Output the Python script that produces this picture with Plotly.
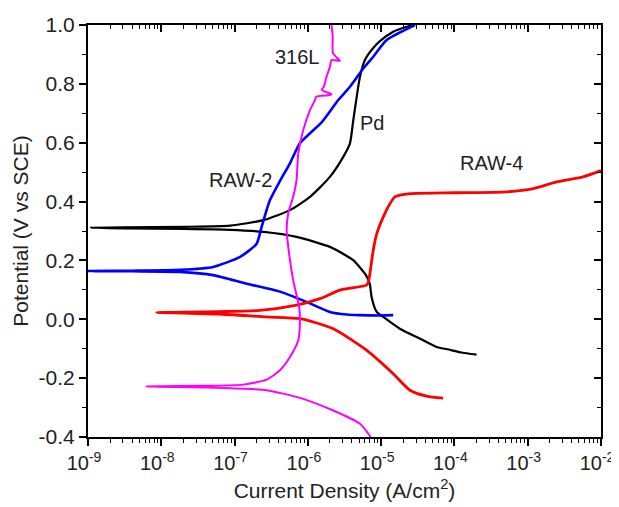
import math
import plotly.graph_objects as go

# ---- data (current density A/cm^2, potential V vs SCE) ----
pd_i = [2.0e-4, 1.6e-4, 1.25e-4, 8.0e-5, 5.7e-5, 3.4e-5, 1.8e-5, 1.07e-5, 8.7e-6, 7.4e-6,
        7.0e-6, 6.2e-6, 4.2e-6, 3.4e-6, 2.0e-6, 7.0e-7, 2.5e-7, 8.7e-8, 2.0e-8, 3.0e-9,
        1.1e-9, 3.0e-9, 2.0e-8, 8.7e-8, 2.47e-7, 5.7e-7, 1.07e-6, 2.0e-6, 3.04e-6, 3.75e-6,
        4.17e-6, 4.64e-6, 5.14e-6, 6.0e-6, 7.4e-6, 9.6e-6, 1.46e-5, 2.23e-5, 2.8e-5]
pd_e = [-0.120, -0.117, -0.113, -0.102, -0.094, -0.066, -0.032, 0.008, 0.025, 0.076,
        0.121, 0.150, 0.200, 0.215, 0.246, 0.280, 0.297, 0.304, 0.307, 0.309,
        0.311, 0.312, 0.314, 0.318, 0.337, 0.371, 0.416, 0.484, 0.552, 0.598,
        0.677, 0.756, 0.824, 0.881, 0.915, 0.945, 0.977, 0.994, 1.0]

raw2_i = [1.46e-5, 9.6e-6, 5.0e-6, 3.4e-6, 2.0e-6, 9.6e-7, 4.16e-7, 1.46e-7, 5.1e-8, 1.8e-8,
          4.0e-9, 1.0e-9, 4.0e-9, 1.8e-8, 5.1e-8, 1.19e-7, 2.0e-7, 2.34e-7, 3.04e-7, 4.16e-7,
          5.7e-7, 7.8e-7, 1.55e-6, 2.6e-6, 3.75e-6, 5.7e-6, 7.8e-6, 1.19e-5, 2.9e-5]
raw2_e = [0.014, 0.013, 0.014, 0.016, 0.025, 0.059, 0.094, 0.121, 0.150, 0.161,
          0.163, 0.164, 0.165, 0.168, 0.178, 0.212, 0.257, 0.314, 0.405, 0.470,
          0.530, 0.598, 0.670, 0.745, 0.790, 0.852, 0.892, 0.949, 1.0]

raw4_i = [7.0e-5, 4.17e-5, 2.47e-5, 1.46e-5, 6.3e-6, 2.22e-6, 7.8e-7, 2.74e-7, 6.0e-8, 2.0e-8,
          8.7e-9, 2.0e-8, 6.0e-8, 2.2e-7, 7.0e-7, 1.46e-6, 2.74e-6, 6.3e-6, 6.7e-6, 7.8e-6,
          8.7e-6, 1.07e-5, 1.32e-5, 1.54e-5, 2.47e-5, 1.07e-4, 5.15e-4, 1.19e-3, 2.48e-3, 5.7e-3,
          1.0e-2]
raw4_e = [-0.268, -0.261, -0.241, -0.185, -0.105, -0.032, 0.002, 0.008, 0.018, 0.021,
          0.023, 0.024, 0.026, 0.030, 0.048, 0.070, 0.099, 0.116, 0.127, 0.235,
          0.290, 0.348, 0.393, 0.416, 0.427, 0.430, 0.433, 0.444, 0.467, 0.484,
          0.505]

l316_i = [7.2e-6, 5.14e-6, 2.22e-6, 7.8e-7, 2.74e-7, 1.32e-7, 4.0e-8, 6.3e-9, 4.0e-8, 1.32e-7,
          2.74e-7, 4.16e-7, 5.7e-7, 7.4e-7, 7.8e-7, 7.6e-7, 6.3e-7, 5.4e-7, 5.13e-7, 5.4e-7,
          6.3e-7, 7.0e-7, 7.4e-7, 8.65e-7, 1.07e-6, 1.25e-6, 1.3e-6, 2.0e-6, 2.1e-6, 1.54e-6,
          1.65e-6, 1.8e-6, 2.0e-6, 2.1e-6, 2.74e-6, 2.2e-6, 2.18e-6, 2.1e-6]
l316_e = [-0.400, -0.355, -0.310, -0.267, -0.241, -0.236, -0.232, -0.228, -0.226, -0.222,
          -0.205, -0.173, -0.128, -0.071, -0.003, 0.042, 0.133, 0.246, 0.303, 0.360,
          0.416, 0.473, 0.564, 0.643, 0.711, 0.745, 0.756, 0.762, 0.765, 0.779,
          0.790, 0.824, 0.858, 0.881, 0.878, 0.904, 0.960, 1.0]

series_names = ["Pd", "RAW-2", "RAW-4", "316L"]
series_colors = ["#000000", "#0000FF", "#FF0000", "#FF00FF"]
series_widths = [2.2, 2.6, 2.8, 2.0]

label_text = ["316L", "Pd", "RAW-2", "RAW-4"]
label_i = [7.3e-7, 7.6e-6, 1.19e-7, 3.16e-4]
label_e = [0.891, 0.667, 0.473, 0.531]

x_tickvals = [1e-9, 1e-8, 1e-7, 1e-6, 1e-5, 1e-4, 1e-3, 1e-2]
x_ticktext = ["10<sup>-9</sup>", "10<sup>-8</sup>", "10<sup>-7</sup>", "10<sup>-6</sup>",
              "10<sup>-5</sup>", "10<sup>-4</sup>", "10<sup>-3</sup>", "10<sup>-2</sup>"]
y_tickvals = [-0.4, -0.2, 0.0, 0.2, 0.4, 0.6, 0.8, 1.0]
y_ticktext = ["-0.4", "-0.2", "0.0", "0.2", "0.4", "0.6", "0.8", "1.0"]

x_minor = [m * 10.0 ** k for k in range(-9, -2) for m in range(2, 10)]
y_minor = [-0.3, -0.1, 0.1, 0.3, 0.5, 0.7, 0.9]

FONT = "Liberation Sans, Arial, sans-serif"
TXT = "#222222"

fig = go.Figure()
for xs, ys, nm, col, w in zip([pd_i, raw2_i, raw4_i, l316_i], [pd_e, raw2_e, raw4_e, l316_e],
                              series_names, series_colors, series_widths):
    fig.add_trace(go.Scatter(x=xs, y=ys, mode="lines", name=nm,
                             line=dict(color=col, width=w, shape="spline", smoothing=0.6),
                             showlegend=False))

# invisible trace for mirrored axes
fig.add_trace(go.Scatter(x=[1e-9], y=[0], xaxis="x2", yaxis="y2", mode="markers",
                         marker=dict(opacity=0), showlegend=False, hoverinfo="skip"))

for t, xi, ye in zip(label_text, label_i, label_e):
    fig.add_annotation(x=math.log10(xi), y=ye, text=t, showarrow=False,
                       font=dict(family=FONT, size=20, color=TXT))

common_line = dict(showline=True, linecolor="black", linewidth=2, showgrid=False,
                   zeroline=False, automargin=False)

fig.update_layout(
    template="none",
    width=611, height=499,
    margin=dict(l=80, r=18, t=17, b=70),
    plot_bgcolor="white", paper_bgcolor="white",
    font=dict(family=FONT, color=TXT),
    xaxis=dict(type="log", range=[-9, -2], tickmode="array", tickvals=x_tickvals,
               ticktext=x_ticktext, ticks="outside", ticklen=7, tickwidth=1.5, tickcolor="black",
               tickfont=dict(size=20, family=FONT, color=TXT), ticklabeloverflow="allow",
               ticklabelshift=-4,
               minor=dict(tickmode="array", tickvals=x_minor, ticks="outside", ticklen=4,
                          tickwidth=1.2, tickcolor="black", showgrid=False),
               title=dict(text="Current Density (A/cm<sup>2</sup>)",
                          font=dict(size=21, family=FONT, color=TXT), standoff=10),
               **common_line),
    yaxis=dict(range=[-0.4, 1.0], tickmode="array", tickvals=y_tickvals, ticktext=y_ticktext,
               ticks="outside", ticklen=7, tickwidth=1.5, tickcolor="black",
               tickfont=dict(size=21, family=FONT, color=TXT),
               minor=dict(tickmode="array", tickvals=y_minor, ticks="outside", ticklen=4,
                          tickwidth=1.2, tickcolor="black", showgrid=False),
               title=dict(text="Potential (V vs SCE)",
                          font=dict(size=21, family=FONT, color=TXT), standoff=4),
               **common_line),
    xaxis2=dict(type="log", range=[-9, -2], overlaying="x", side="top", anchor="y2",
                tickmode="array", tickvals=x_tickvals, showticklabels=False,
                ticks="inside", ticklen=7, tickwidth=1.5, tickcolor="black",
                minor=dict(tickmode="array", tickvals=x_minor, ticks="inside", ticklen=4,
                           tickwidth=1.2, tickcolor="black", showgrid=False),
                **common_line),
    yaxis2=dict(range=[-0.4, 1.0], overlaying="y", side="right", anchor="x2",
                tickmode="array", tickvals=y_tickvals, showticklabels=False,
                ticks="inside", ticklen=7, tickwidth=1.5, tickcolor="black",
                minor=dict(tickmode="array", tickvals=y_minor, ticks="inside", ticklen=4,
                           tickwidth=1.2, tickcolor="black", showgrid=False),
                **common_line),
)

fig.write_html("out.html")
